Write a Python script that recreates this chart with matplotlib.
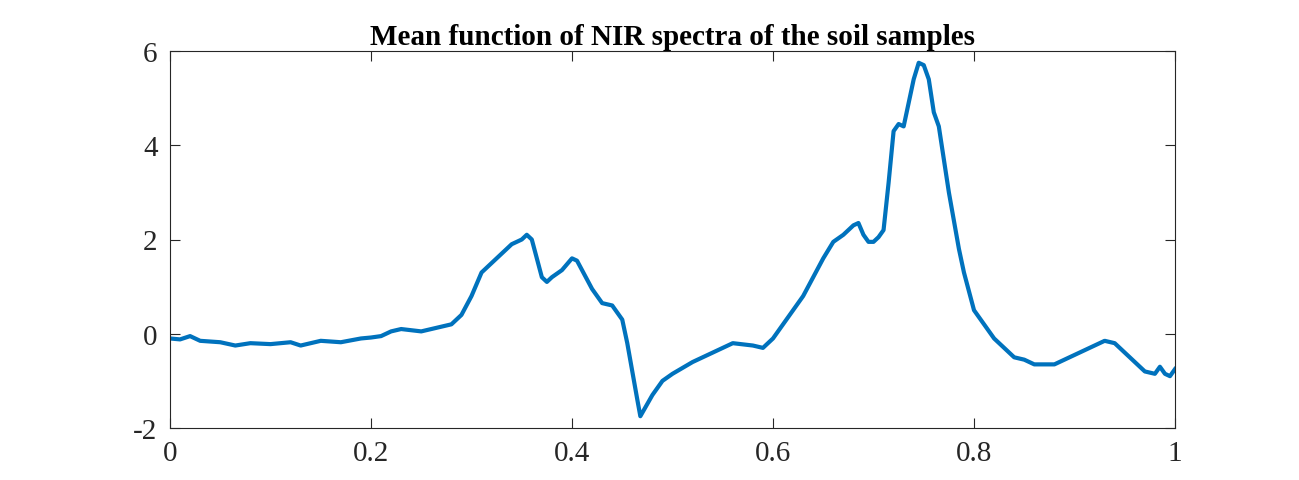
import matplotlib.pyplot as plt

# mean NIR spectrum
x = [0.0, 0.01, 0.02, 0.03, 0.05, 0.065, 0.08, 0.1, 0.12, 0.13, 0.15, 0.17, 0.19, 0.2,
     0.21, 0.22, 0.23, 0.25, 0.27, 0.28, 0.29, 0.3, 0.31, 0.32, 0.33, 0.34, 0.35, 0.355,
     0.36, 0.365, 0.37, 0.375, 0.38, 0.39, 0.4, 0.405, 0.41, 0.42, 0.43, 0.44, 0.45,
     0.455, 0.46, 0.465, 0.468, 0.472, 0.48, 0.49, 0.5, 0.52, 0.54, 0.55, 0.56, 0.58,
     0.59, 0.6, 0.61, 0.62, 0.63, 0.64, 0.65, 0.66, 0.67, 0.675, 0.68, 0.685, 0.69,
     0.695, 0.7, 0.705, 0.71, 0.715, 0.72, 0.725, 0.73, 0.735, 0.74, 0.745, 0.75,
     0.755, 0.76, 0.765, 0.77, 0.775, 0.78, 0.785, 0.79, 0.8, 0.81, 0.82, 0.83, 0.84,
     0.85, 0.86, 0.87, 0.88, 0.89, 0.9, 0.91, 0.92, 0.93, 0.94, 0.95, 0.96, 0.97,
     0.98, 0.985, 0.99, 0.995, 1.0]
y = [-0.1, -0.12, -0.05, -0.15, -0.18, -0.25, -0.2, -0.22, -0.18, -0.25, -0.15, -0.18,
     -0.1, -0.08, -0.05, 0.05, 0.1, 0.05, 0.15, 0.2, 0.4, 0.8, 1.3, 1.5, 1.7, 1.9, 2.0,
     2.1, 2.0, 1.6, 1.2, 1.1, 1.2, 1.35, 1.6, 1.55, 1.35, 0.95, 0.65, 0.6, 0.3, -0.2,
     -0.8, -1.4, -1.75, -1.6, -1.3, -1.0, -0.85, -0.6, -0.4, -0.3, -0.2, -0.25, -0.3,
     -0.1, 0.2, 0.5, 0.8, 1.2, 1.6, 1.95, 2.1, 2.2, 2.3, 2.35, 2.1, 1.95, 1.95, 2.05,
     2.2, 3.2, 4.3, 4.45, 4.4, 4.9, 5.4, 5.75, 5.7, 5.4, 4.7, 4.4, 3.7, 3.0, 2.4, 1.8,
     1.3, 0.5, 0.2, -0.1, -0.3, -0.5, -0.55, -0.65, -0.65, -0.65, -0.55, -0.45, -0.35,
     -0.25, -0.15, -0.2, -0.4, -0.6, -0.8, -0.85, -0.7, -0.85, -0.9, -0.75]

plt.rcParams['font.family'] = ['Liberation Serif', 'DejaVu Serif']
plt.rcParams['axes.unicode_minus'] = False
fig = plt.figure(figsize=(12.99, 4.81), dpi=100)
ax = fig.add_axes([170 / 1299, 52 / 481, 1005 / 1299, 377 / 481])
ax.plot(x, y, color='#0072BD', linewidth=3)
ax.set_xlim(0, 1)
ax.set_ylim(-2, 6)
ax.set_xticks([0, 0.2, 0.4, 0.6, 0.8, 1])
ax.set_xticklabels(['0', '0.2', '0.4', '0.6', '0.8', '1'])
ax.set_yticks([-2, 0, 2, 4, 6])
ax.tick_params(direction='in', top=True, right=True, labelsize=21, length=7,
               pad=9, colors='#262626')
for s in ax.spines.values():
    s.set_color('#262626')
ax.set_title('Mean function of NIR spectra of the soil samples', fontsize=21,
             fontweight='bold', pad=5)
fig.savefig('out.png')
